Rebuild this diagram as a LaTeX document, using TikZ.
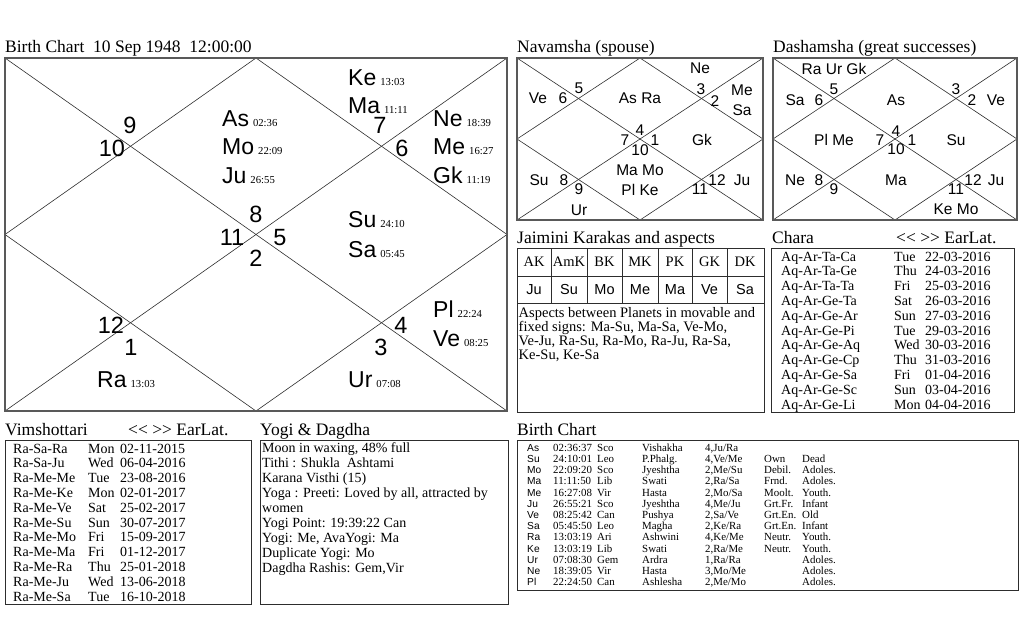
\documentclass[tikz,border=0pt]{standalone}
\usepackage{fontspec}
\setmainfont{Liberation Serif}
\newfontfamily\sansf{Liberation Sans}
\usepackage{array}
\newcommand\ltlt{<\kern0pt<}
\newcommand\gtgt{>\kern0pt>}
\begin{document}
\begin{tikzpicture}[x=1pt,y=-1pt,
  frame/.style={draw=gray!70!black, line width=1.8pt},
  box/.style={draw=gray!35!black, line width=0.9pt},
  chline/.style={draw=gray!35!black, line width=0.6pt},
  title/.style={anchor=base west, inner sep=0pt, font=\fontsize{17.5}{20}\selectfont},
  bignum/.style={anchor=base, inner sep=0pt, font=\sansf\fontsize{23.5}{24}\selectfont},
  bigpl/.style={anchor=base west, inner sep=0pt, font=\sansf\fontsize{23}{24}\selectfont},
  sm/.style={anchor=center, inner sep=0pt, font=\sansf\fontsize{15.5}{16}\selectfont},
  hdr/.style={anchor=center, inner sep=0pt, font=\fontsize{14.5}{16}\selectfont},
  cellsf/.style={anchor=center, inner sep=0pt, font=\sansf\fontsize{14.5}{16}\selectfont},
  tbl/.style={anchor=north west, inner sep=0pt},
]
\useasboundingbox (0,0) rectangle (1024,640);

% ---------------- Main birth chart ----------------
\node[title] (t1) at (5,52) {Birth Chart~~10 Sep 1948~~12:00:00};
\draw[chline] (5,58) -- (507,411);
\draw[chline] (507,58) -- (5,411);
\draw[chline] (256,58) -- (507,234.5) -- (256,411) -- (5,234.5) -- cycle;
\draw[frame] (5,58) rectangle (507,411);
\foreach \x/\y/\t [count=\i] in {130/133/9, 112/156/10, 380/133/7, 402/156/6,
  256/222/8, 232/245/11, 280/245/5, 256/266/2, 111/333/12, 131/355/1, 401/333/4, 381/355/3}
  \node[bignum] (mn\i) at (\x,\y) {\t};
\foreach \x/\y/\p/\d [count=\i] in {222/126/As/02:36, 222/154/Mo/22:09, 222/183/Ju/26:55,
  348/85/Ke/13:03, 348/113/Ma/11:11, 433/126/Ne/18:39, 433/154/Me/16:27, 433/183/Gk/11:19,
  348/227/Su/24:10, 348/257/Sa/05:45, 433/317/Pl/22:24, 433/346/Ve/08:25,
  97/387/Ra/13:03, 348/387/Ur/07:08}
  \node[bigpl] (mp\i) at (\x,\y) {\p\hspace{4pt}{\rmfamily\fontsize{10.7}{12}\selectfont\d}};

% ---------------- Navamsha ----------------
\node[title] (t2) at (517,52) {Navamsha (spouse)};
\draw[chline] (517,58) -- (763,220);
\draw[chline] (763,58) -- (517,220);
\draw[chline] (640,58) -- (763,139) -- (640,220) -- (517,139) -- cycle;
\draw[frame] (517,58) rectangle (763,220);
\foreach \x/\y/\t [count=\i] in {538/98/Ve, 563/98/6, 579/88/5, 640/98/As Ra,
  700/68/Ne, 701/89/3, 715/101/2, 742/90/Me, 742/110/Sa,
  640/130/4, 625/140/7, 655/140/1, 640/150/10, 702/140/Gk,
  640/170/Ma Mo, 640/190/Pl Ke, 539/180/Su, 564/180/8, 579/189/9, 579/210/Ur,
  700/189/11, 717/180/12, 742/180/Ju}
  \node[sm] (nv\i) at (\x,\y) {\t};

% ---------------- Dashamsha ----------------
\node[title] (t3) at (773,52) {Dashamsha (great successes)};
\draw[chline] (773,58) -- (1017,220);
\draw[chline] (1017,58) -- (773,220);
\draw[chline] (895,58) -- (1017,139) -- (895,220) -- (773,139) -- cycle;
\draw[frame] (773,58) rectangle (1017,220);
\foreach \x/\y/\t [count=\i] in {834/69/Ra Ur Gk, 795/100/Sa, 819/100/6, 834/89/5,
  896/100/As, 956/89/3, 972/100/2, 996/100/Ve,
  834/140/Pl Me, 880/140/7, 896/131/4, 912/140/1, 896/149/10, 956/140/Su,
  795/180/Ne, 819/180/8, 834/189/9, 896/180/Ma,
  956/189/11, 973/180/12, 996/180/Ju, 956/209/Ke Mo}
  \node[sm] (ds\i) at (\x,\y) {\t};

% ---------------- Jaimini ----------------
\node[title] (t4) at (517,243) {Jaimini Karakas and aspects};
\draw[box] (517,248) rectangle (764,412);
\draw[box] (517,276) -- (764,276);
\draw[box] (517,303) -- (764,303);
\foreach \x in {551,587,622,658,692,727} \draw[box] (\x,248) -- (\x,303);
\foreach \x/\a/\b [count=\i] in {534/AK/Ju, 569/AmK/Su, 604.5/BK/Mo, 640/MK/Me,
  675/PK/Ma, 709.5/GK/Ve, 745/DK/Sa} {
  \node[hdr] (jh\i) at (\x,262) {\a};
  \node[cellsf] (jv\i) at (\x,289.5) {\b};
}
\node[anchor=north west, inner sep=1.5pt, align=left,
  font=\fontsize{14.5}{14}\selectfont] (asp) at (517,305.5)
  {Aspects between Planets in movable and\\ fixed signs: Ma-Su, Ma-Sa, Ve-Mo,\\
   Ve-Ju, Ra-Su, Ra-Mo, Ra-Ju, Ra-Sa,\\ Ke-Su, Ke-Sa};

% ---------------- Chara ----------------
\node[title] (t5) at (772,243) {Chara};
\node[title] (t5b) at (896,243) {\ltlt{} \gtgt{} EarLat.};
\draw[box] (771,248) rectangle (1014,412);
\node[tbl] (chara) at (781,250.6) {\fontsize{14}{14.8}\selectfont
\begin{tabular}{@{}p{113pt}@{}p{31pt}@{}l@{}}
Aq-Ar-Ta-Ca & Tue & 22-03-2016\\
Aq-Ar-Ta-Ge & Thu & 24-03-2016\\
Aq-Ar-Ta-Ta & Fri & 25-03-2016\\
Aq-Ar-Ge-Ta & Sat & 26-03-2016\\
Aq-Ar-Ge-Ar & Sun & 27-03-2016\\
Aq-Ar-Ge-Pi & Tue & 29-03-2016\\
Aq-Ar-Ge-Aq & Wed & 30-03-2016\\
Aq-Ar-Ge-Cp & Thu & 31-03-2016\\
Aq-Ar-Ge-Sa & Fri & 01-04-2016\\
Aq-Ar-Ge-Sc & Sun & 03-04-2016\\
Aq-Ar-Ge-Li & Mon & 04-04-2016
\end{tabular}};

% ---------------- Vimshottari ----------------
\node[title] (t6) at (5,435) {Vimshottari};
\node[title] (t6b) at (128,435) {\ltlt{} \gtgt{} EarLat.};
\draw[box] (5,440) rectangle (251,604);
\node[tbl] (vim) at (13,442.6) {\fontsize{14}{14.8}\selectfont
\begin{tabular}{@{}p{75pt}@{}p{32pt}@{}l@{}}
Ra-Sa-Ra & Mon & 02-11-2015\\
Ra-Sa-Ju & Wed & 06-04-2016\\
Ra-Me-Me & Tue & 23-08-2016\\
Ra-Me-Ke & Mon & 02-01-2017\\
Ra-Me-Ve & Sat & 25-02-2017\\
Ra-Me-Su & Sun & 30-07-2017\\
Ra-Me-Mo & Fri & 15-09-2017\\
Ra-Me-Ma & Fri & 01-12-2017\\
Ra-Me-Ra & Thu & 25-01-2018\\
Ra-Me-Ju & Wed & 13-06-2018\\
Ra-Me-Sa & Tue & 16-10-2018
\end{tabular}};

% ---------------- Yogi & Dagdha ----------------
\node[title] (t7) at (260,435) {Yogi \& Dagdha};
\draw[box] (260,440) rectangle (508,604);
\node[tbl] (yogi) at (262,441.5) {\fontsize{14}{15}\selectfont
\begin{tabular}{@{}l@{}}
Moon in waxing, 48\% full\\
Tithi : Shukla~~Ashtami\\
Karana Visthi (15)\\
Yoga : Preeti: Loved by all, attracted by\\
women\\
Yogi Point: 19:39:22 Can\\
Yogi: Me, AvaYogi: Ma\\
Duplicate Yogi: Mo\\
Dagdha Rashis: Gem,Vir
\end{tabular}};

% ---------------- Birth chart table ----------------
\node[title] (t8) at (517,435) {Birth Chart};
\draw[box] (517,440) rectangle (1018,590);
\node[tbl] (bct) at (527,443.2) {\fontsize{10.9}{11.2}\selectfont
\begin{tabular}{@{}>{\sansf\fontsize{10.2}{11.2}\selectfont}p{26pt}@{}p{44pt}@{}p{45pt}@{}p{63pt}@{}p{59pt}@{}p{38pt}@{}l@{}}
As & 02:36:37 & Sco & Vishakha & 4,Ju/Ra & & \\
Su & 24:10:01 & Leo & P.Phalg. & 4,Ve/Me & Own & Dead\\
Mo & 22:09:20 & Sco & Jyeshtha & 2,Me/Su & Debil. & Adoles.\\
Ma & 11:11:50 & Lib & Swati & 2,Ra/Sa & Frnd. & Adoles.\\
Me & 16:27:08 & Vir & Hasta & 2,Mo/Sa & Moolt. & Youth.\\
Ju & 26:55:21 & Sco & Jyeshtha & 4,Me/Ju & Grt.Fr. & Infant\\
Ve & 08:25:42 & Can & Pushya & 2,Sa/Ve & Grt.En. & Old\\
Sa & 05:45:50 & Leo & Magha & 2,Ke/Ra & Grt.En. & Infant\\
Ra & 13:03:19 & Ari & Ashwini & 4,Ke/Me & Neutr. & Youth.\\
Ke & 13:03:19 & Lib & Swati & 2,Ra/Me & Neutr. & Youth.\\
Ur & 07:08:30 & Gem & Ardra & 1,Ra/Ra & & Adoles.\\
Ne & 18:39:05 & Vir & Hasta & 3,Mo/Me & & Adoles.\\
Pl & 22:24:50 & Can & Ashlesha & 2,Me/Mo & & Adoles.
\end{tabular}};
\end{tikzpicture}
\end{document}
